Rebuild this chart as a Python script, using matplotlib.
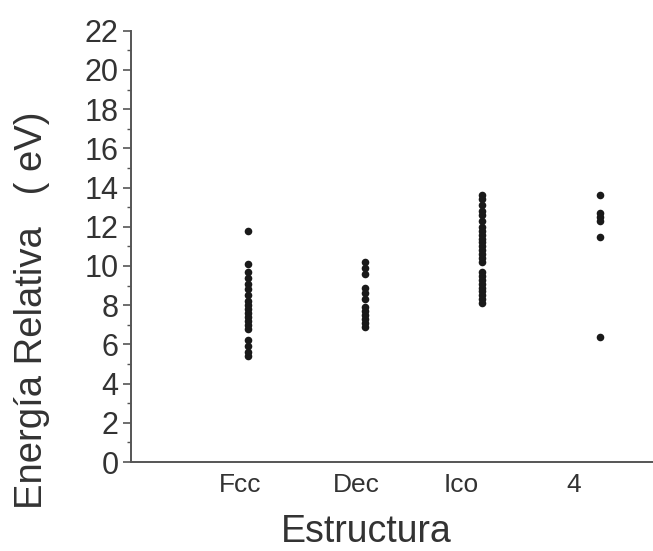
import matplotlib
matplotlib.use("Agg")
import matplotlib.pyplot as plt
from matplotlib.ticker import MultipleLocator

plt.rcParams['font.family'] = ['Liberation Sans', 'DejaVu Sans']

categories = ["Fcc", "Dec", "Ico", "4"]
fcc = [11.8, 10.1, 9.7, 9.4, 9.1, 8.8, 8.5, 8.2, 8.0, 7.8, 7.6, 7.4, 7.2, 7.0, 6.8, 6.2, 5.9, 5.6, 5.4]
dec = [10.2, 9.9, 9.6, 8.9, 8.6, 8.3, 7.9, 7.7, 7.5, 7.3, 7.1, 6.9]
ico = [13.6, 13.4, 13.1, 12.8, 12.6, 12.3, 12.0, 11.8, 11.6, 11.4, 11.2, 11.0, 10.8,
       10.6, 10.4, 10.2, 9.7, 9.5, 9.3, 9.1, 8.9, 8.7, 8.5, 8.3, 8.1]
four = [13.6, 12.7, 12.5, 12.3, 11.5, 6.4]
series = [fcc, dec, ico, four]

fig = plt.figure(figsize=(6.53, 5.51), dpi=100)
ax = fig.add_axes([0.2006, 0.1615, 0.80, 0.7828])

for i, vals in enumerate(series):
    ax.scatter([i + 1] * len(vals), vals, s=30, color="#1a1a1a", linewidths=0, zorder=3)

ax.set_xlim(0, 4.46)
ax.set_ylim(0, 22)
ax.yaxis.set_major_locator(MultipleLocator(2))
ax.yaxis.set_minor_locator(MultipleLocator(1))

label_pos = [0.93, 1.92, 2.82, 3.78]
ax.set_xticks(label_pos)
ax.set_xticklabels(categories, fontsize=19, color="#333333")
ax.tick_params(axis='x', length=0, pad=8)
ax.tick_params(axis='y', which='major', direction='out', length=6, width=1.2,
               labelsize=22, color="#555555", labelcolor="#333333", pad=3)
ax.tick_params(axis='y', which='minor', direction='out', length=3, width=1.0, color="#555555")

for s in ["top", "right"]:
    ax.spines[s].set_visible(False)
for s in ["left", "bottom"]:
    ax.spines[s].set_color("#555555")
    ax.spines[s].set_linewidth(1.4)

ax.set_xlabel("Estructura", fontsize=27, color="#333333")
ax.xaxis.set_label_coords((366 - 131) / (0.80 * 653), -0.12)
ax.set_ylabel("Energía Relativa   ( eV)", fontsize=27.5, color="#333333")
ax.yaxis.set_label_coords(-0.155, 0.352)

fig.savefig("out.png", dpi=100)
